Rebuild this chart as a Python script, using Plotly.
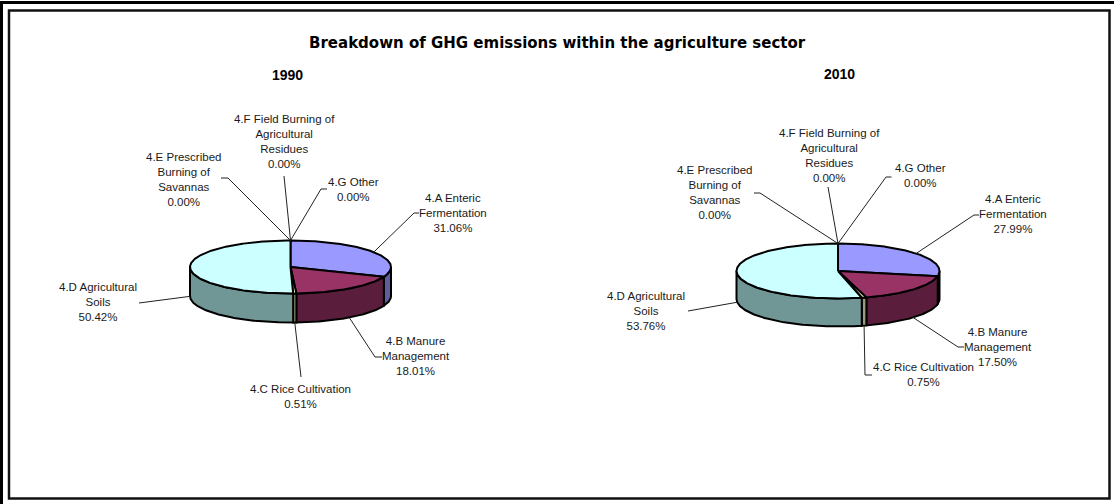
import numpy as np
import plotly.graph_objects as go

# ---- data -------------------------------------------------------------
categories = [
    "4.A Enteric<br>Fermentation",
    "4.B Manure<br>Management",
    "4.C Rice Cultivation",
    "4.D Agricultural<br>Soils",
    "4.E Prescribed<br>Burning of<br>Savannas",
    "4.F Field Burning of<br>Agricultural<br>Residues",
    "4.G Other",
]
years = ["1990", "2010"]
share_1990 = [31.06, 18.01, 0.51, 50.42, 0.00, 0.00, 0.00]
share_2010 = [27.99, 17.50, 0.75, 53.76, 0.00, 0.00, 0.00]
chart_title = "Breakdown of GHG emissions within the agriculture sector"

# ---- styles -----------------------------------------------------------
top_colors = ["#9999FF", "#993366", "#FFFFCC", "#CCFFFF", "#660066", "#FF8080", "#0066CC"]
side_colors = ["#5E5E9E", "#5A1D3C", "#9C9C7C", "#709696", "#3D003D", "#994D4D", "#003D7A"]
W, H = 1114, 504
LABEL_FONT = dict(family="Arial, Liberation Sans, sans-serif", size=11.5, color="#1a1a1a")
LEADER = dict(color="#222222", width=1)
OUTLINE = dict(color="black", width=2)

# pie placement (pixels) and label / leader knee positions per year
layout_cfg = {
    "1990": dict(
        cx=290.5, cy=267, rx=100.5, ry=26.5, depth=29, head=(287.5, 75),
        labels=[(452.5, 213), (416, 356), (300, 396.5), (97.5, 302),
                (183, 179), (284, 141), (353.6, 189)],
        knees=[[(414, 213), (419, 213)], [(375, 357), (382, 357)], [(301, 377)],
               [(139, 303)], [(228, 178), (221, 178)], [(284, 176)],
               [(321, 189), (327, 189)]],
    ),
    "2010": dict(
        cx=838, cy=271, rx=101.5, ry=27.5, depth=28, head=(839.7, 74),
        labels=[(1013, 213.7), (998, 346.7), (923.6, 374.5), (646, 310.7),
                (714.7, 192), (829, 155), (920, 175.5)],
        knees=[[(974, 215), (979, 215)], [(958, 347), (964, 347)],
               [(865, 375), (872, 375)], [(688, 311)],
               [(760, 193), (754, 193)], [(828, 187)], [(886, 177), (891.5, 177)]],
    ),
}
shares = {"1990": share_1990, "2010": share_2010}


def ellipse_pt(cfg, ang_deg, drop=0.0):
    a = np.radians(ang_deg)
    return cfg["cx"] + cfg["rx"] * np.sin(a), cfg["cy"] - cfg["ry"] * np.cos(a) + drop


fig = go.Figure()

for yr in years:
    cfg = layout_cfg[yr]
    vals = np.array(shares[yr], dtype=float)
    bounds = np.concatenate([[0.0], np.cumsum(vals) / vals.sum() * 360.0])

    # side walls (front half of the cylinder only)
    for i, v in enumerate(vals):
        s, e = max(bounds[i], 90.0), min(bounds[i + 1], 270.0)
        if v <= 0 or e <= s:
            continue
        t = np.linspace(s, e, max(3, int((e - s) * 2)))
        xt, yt = ellipse_pt(cfg, t)
        xb, yb = ellipse_pt(cfg, t[::-1], cfg["depth"])
        fig.add_trace(go.Scatter(
            x=np.concatenate([xt, xb, xt[:1]]), y=np.concatenate([yt, yb, yt[:1]]),
            mode="lines", fill="toself", fillcolor=side_colors[i],
            line=OUTLINE, hoverinfo="skip", showlegend=False))

    # top faces
    for i, v in enumerate(vals):
        if v <= 0:
            continue
        a0, a1 = bounds[i], bounds[i + 1]
        t = np.linspace(a0, a1, max(3, int((a1 - a0) * 2)))
        xs, ys = ellipse_pt(cfg, t)
        fig.add_trace(go.Scatter(
            x=np.concatenate([[cfg["cx"]], xs, [cfg["cx"]]]),
            y=np.concatenate([[cfg["cy"]], ys, [cfg["cy"]]]),
            mode="lines", fill="toself", fillcolor=top_colors[i],
            line=OUTLINE, hoverinfo="skip", showlegend=False))

    # leader lines and data labels
    for i, v in enumerate(vals):
        mid = (bounds[i] + bounds[i + 1]) / 2.0
        front = 90.0 < mid < 270.0
        ax, ay = ellipse_pt(cfg, mid, cfg["depth"] if front else 0.0)
        px = [ax] + [k[0] for k in cfg["knees"][i]]
        py = [ay] + [k[1] for k in cfg["knees"][i]]
        fig.add_trace(go.Scatter(x=px, y=py, mode="lines", line=LEADER,
                                 hoverinfo="skip", showlegend=False))
        lx, ly = cfg["labels"][i]
        fig.add_annotation(x=lx, y=ly, xref="x", yref="y", showarrow=False,
                           text=f"{categories[i]}<br>{v:.2f}%", align="center",
                           xanchor="center", yanchor="middle", font=LABEL_FONT)

    hx, hy = cfg["head"]
    fig.add_annotation(x=hx, y=hy, xref="x", yref="y", showarrow=False, text=f"<b>{yr}</b>",
                       xanchor="center", yanchor="middle",
                       font=dict(family="Arial, Liberation Sans, sans-serif", size=14, color="black"))

fig.add_annotation(x=557, y=43, xref="x", yref="y", showarrow=False,
                   text=f"<b>{chart_title}</b>", xanchor="center", yanchor="middle",
                   font=dict(family="DejaVu Sans, sans-serif", size=15, color="black"))

# double frame around the chart
fig.add_shape(type="rect", xref="x", yref="y", x0=1.5, y0=2.5, x1=1120, y1=512,
              line=dict(color="black", width=3))
fig.add_shape(type="rect", xref="x", yref="y", x0=9, y0=10.5, x1=1109.5, y1=498.5,
              line=dict(color="#111111", width=2.5))

fig.update_xaxes(range=[0, W], visible=False, fixedrange=True)
fig.update_yaxes(range=[H, 0], visible=False, fixedrange=True)
fig.update_layout(width=W, height=H, margin=dict(l=0, r=0, t=0, b=0),
                  paper_bgcolor="white", plot_bgcolor="white", showlegend=False)

fig.write_html("out.html")
